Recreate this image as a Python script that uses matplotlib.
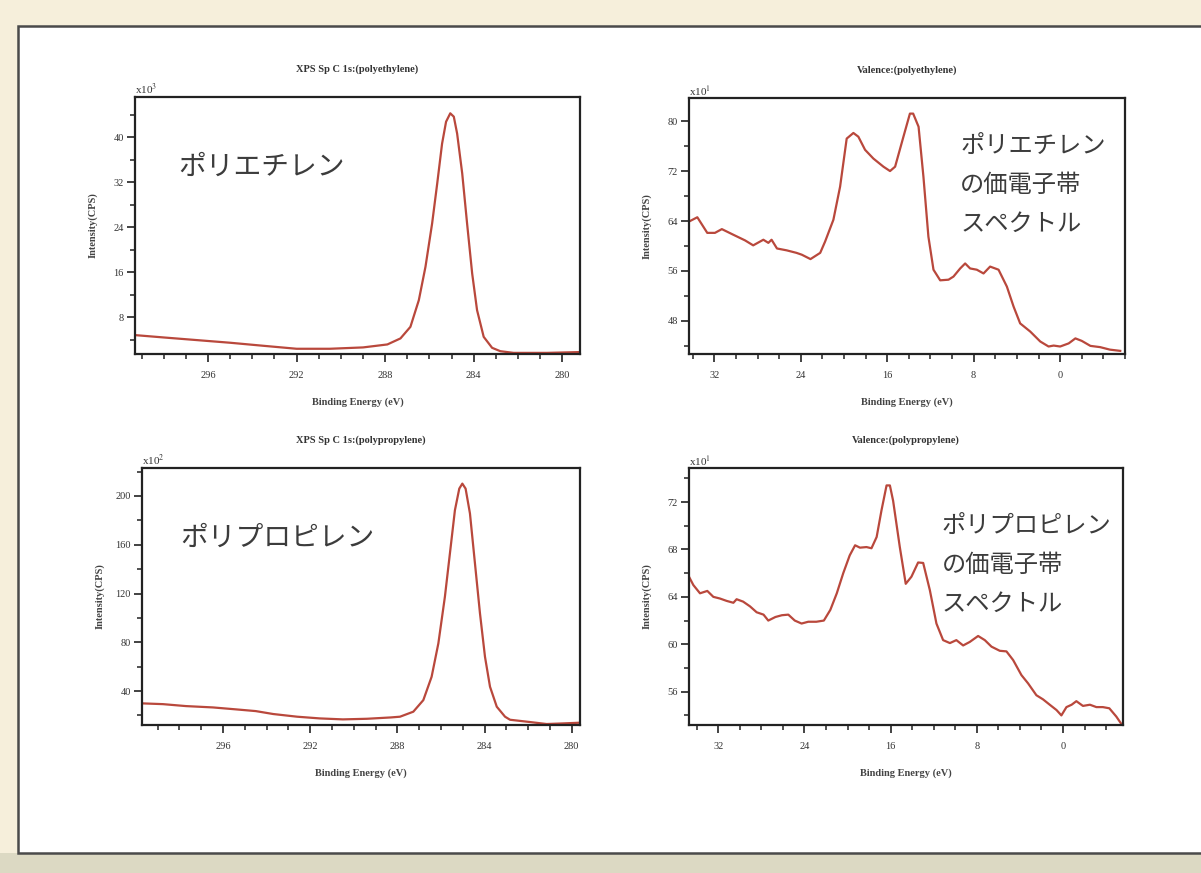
import numpy as np
import matplotlib
matplotlib.use("Agg")
import matplotlib.pyplot as plt
from matplotlib.patches import Rectangle
from matplotlib.ticker import MultipleLocator

plt.rcParams['font.family'] = ['Liberation Serif', 'DejaVu Serif']
plt.rcParams['mathtext.fontset'] = 'stix'

# --- data ---
# C 1s, polyethylene (x10^3 CPS)
pe_c1s_ev = [299.3, 298.0, 296.5, 295.0, 293.5, 292.0, 290.5, 289.0, 287.9, 287.31,
             286.86, 286.48, 286.18, 285.88, 285.65, 285.43, 285.25, 285.06, 284.9,
             284.75, 284.52, 284.3, 284.07, 283.85, 283.55, 283.17, 282.8, 282.2,
             280.7, 279.25]
pe_c1s_int = [4.86, 4.44, 3.97, 3.5, 2.96, 2.43, 2.43, 2.67, 3.2, 4.27,
              6.33, 11.07, 17.0, 24.7, 31.8, 38.9, 42.8, 44.3, 43.7,
              40.7, 33.6, 24.7, 15.8, 9.3, 4.55, 2.6, 2.0, 1.7,
              1.7, 1.84]

# C 1s, polypropylene (x10^2 CPS)
pp_c1s_ev = [299.67, 298.76, 297.7, 296.46, 295.4, 294.5, 293.7, 292.6, 291.56, 290.5,
             289.4, 288.3, 287.88, 287.27, 286.81, 286.43, 286.12, 285.82, 285.59,
             285.36, 285.16, 285.02, 284.87, 284.67, 284.44, 284.21, 283.98, 283.75,
             283.44, 283.06, 282.83, 281.9, 281.15, 280.4, 279.6]
pp_c1s_int = [29.9, 29.3, 27.7, 26.6, 25.0, 23.6, 21.2, 19.0, 17.6, 16.8,
              17.3, 18.4, 19.0, 23.1, 32.6, 51.7, 79.1, 117.3, 152.8,
              188.3, 206.0, 210.1, 206.0, 185.6, 144.6, 103.7, 68.1, 43.6,
              27.2, 19.0, 16.5, 14.6, 13.0, 13.5, 14.1]

# valence band, polyethylene (x10^1 CPS)
pe_val_ev = [34.35, 33.57, 32.65, 31.94, 31.3, 30.24, 29.16, 28.4, 27.46, 27.0,
             26.7, 26.2, 25.3, 24.4, 23.9, 23.1, 22.2, 21.75, 20.98, 20.36,
             19.75, 19.13, 18.67, 18.05, 17.28, 16.35, 15.74, 15.27, 14.5, 13.9,
             13.6, 13.1, 12.65, 12.19, 11.72, 11.1, 10.33, 9.87, 9.25, 8.79,
             8.33, 7.71, 7.09, 6.48, 5.7, 4.93, 4.31, 3.7, 2.77, 1.84,
             1.07, 0.6, 0.0, -0.79, -1.41, -2.0, -2.8, -3.7, -4.6, -5.56]
pe_val_int = [63.9, 64.6, 62.1, 62.1, 62.7, 61.8, 60.9, 60.1, 61.0, 60.5,
              61.0, 59.6, 59.3, 58.9, 58.6, 57.9, 58.9, 60.7, 64.2, 69.5,
              77.2, 78.1, 77.5, 75.4, 74.0, 72.7, 72.0, 72.7, 77.5, 81.2,
              81.2, 79.1, 71.1, 61.5, 56.2, 54.5, 54.6, 55.1, 56.4, 57.2,
              56.4, 56.2, 55.6, 56.7, 56.2, 53.5, 50.3, 47.6, 46.3, 44.7,
              43.9, 44.05, 43.9, 44.4, 45.2, 44.8, 44.0, 43.8, 43.4, 43.2]

# valence band, polypropylene (x10^1 CPS)
pp_val_ev = [34.72, 34.32, 33.7, 33.02, 32.46, 31.85, 31.23, 30.6, 30.3, 29.7,
             29.06, 28.44, 27.8, 27.36, 26.7, 26.1, 25.5, 24.9, 24.27, 23.65,
             22.9, 22.2, 21.6, 21.0, 20.4, 19.8, 19.3, 18.85, 18.24, 17.78,
             17.3, 16.85, 16.38, 16.07, 15.77, 15.15, 14.6, 14.07, 13.45, 12.98,
             12.36, 11.75, 11.13, 10.5, 9.9, 9.27, 8.65, 7.88, 7.26, 6.64,
             5.87, 5.25, 4.63, 3.86, 3.24, 2.47, 1.85, 1.23, 0.6, 0.15,
             -0.32, -0.8, -1.24, -1.85, -2.5, -3.1, -3.7, -4.3, -4.95, -5.4]
pp_val_int = [65.7, 65.0, 64.3, 64.5, 64.0, 63.86, 63.66, 63.5, 63.8, 63.6,
              63.2, 62.7, 62.5, 62.0, 62.3, 62.45, 62.5, 62.0, 61.75, 61.9,
              61.9, 62.0, 62.9, 64.3, 66.0, 67.5, 68.35, 68.15, 68.2, 68.1,
              69.05, 71.3, 73.4, 73.4, 72.1, 68.2, 65.1, 65.7, 66.9, 66.86,
              64.56, 61.75, 60.35, 60.1, 60.35, 59.9, 60.2, 60.7, 60.35, 59.8,
              59.45, 59.4, 58.67, 57.4, 56.7, 55.7, 55.35, 54.9, 54.45, 54.0,
              54.7, 54.9, 55.2, 54.8, 54.9, 54.7, 54.7, 54.6, 53.9, 53.3]

titles = ["XPS Sp C 1s:(polyethylene)", "Valence:(polyethylene)",
          "XPS Sp C 1s:(polypropylene)", "Valence:(polypropylene)"]
exps = ["3", "1", "2", "1"]
jp_labels = ["ポリエチレン", "ポリエチレン\nの価電子帯\nスペクトル",
             "ポリプロピレン", "ポリプロピレン\nの価電子帯\nスペクトル"]

W, H = 1201, 873
fig = plt.figure(figsize=(W / 100, H / 100), dpi=100)
fig.patch.set_facecolor('#f6efdb')

# page panel
fig.patches.append(Rectangle((0, 0), 1, (H - 853) / H, transform=fig.transFigure,
                             facecolor='#dcd9c3', edgecolor='none', zorder=-3))
fig.patches.append(Rectangle((18 / W, (H - 853) / H), 1.0, (853 - 26) / H,
                             transform=fig.transFigure, facecolor='white',
                             edgecolor='#4a4a4a', lw=1.8, zorder=-2))

def px_axes(x0, y0, x1, y1):
    return fig.add_axes([x0 / W, 1 - y1 / H, (x1 - x0) / W, (y1 - y0) / H])

axes = [px_axes(135, 97, 580, 354), px_axes(689, 98, 1125, 354),
        px_axes(142, 468, 580, 725), px_axes(689, 468, 1123, 725)]

series = [(pe_c1s_ev, pe_c1s_int), (pe_val_ev, pe_val_int),
          (pp_c1s_ev, pp_c1s_int), (pp_val_ev, pp_val_int)]
xlims = [(299.3, 279.2), (34.34, -6.0), (299.72, 279.62), (34.72, -5.57)]
ylims = [(1.5, 47.2), (42.7, 83.7), (12.2, 222.9), (53.19, 74.87)]
xmaj = [4, 8, 4, 8]
xmin = [1, 2, 1, 2]
ymaj = [8, 8, 40, 4]
ymin = [4, 4, 20, 2]

jp_pos = [(0.097, 0.73, 'center', 20), (0.622, 0.862, 'top', 17.5),
          (0.087, 0.73, 'center', 20), (0.583, 0.825, 'top', 17.5)]

for i, ax in enumerate(axes):
    x, y = series[i]
    ax.plot(x, y, color='#b9483c', lw=1.6)
    ax.set_xlim(*xlims[i])
    ax.set_ylim(*ylims[i])
    ax.xaxis.set_major_locator(MultipleLocator(xmaj[i]))
    ax.xaxis.set_minor_locator(MultipleLocator(xmin[i]))
    ax.yaxis.set_major_locator(MultipleLocator(ymaj[i]))
    ax.yaxis.set_minor_locator(MultipleLocator(ymin[i]))
    ax.tick_params(which='major', direction='out', length=6, width=1.2,
                   labelsize=7.5, color='#222', labelcolor='#333', pad=2)
    ax.tick_params(which='minor', direction='out', length=3.5, width=1.1, color='#222')
    ax.tick_params(axis='x', pad=6)
    for s in ax.spines.values():
        s.set_linewidth(1.6)
        s.set_color('#222')
    ax.set_title(titles[i], fontsize=7.5, fontweight='bold', color='#333', pad=18)
    ax.set_xlabel("Binding Energy (eV)", fontsize=7.5, fontweight='bold', color='#444')
    ax.xaxis.set_label_coords(0.5, -0.17)
    ax.set_ylabel("Intensity(CPS)", fontsize=7.5, fontweight='bold', color='#444')
    ax.yaxis.set_label_coords(-0.085, 0.5)
    ax.text(0.0, 1.0, r'x10$^{%s}$' % exps[i], transform=ax.transAxes,
            fontsize=8, color='#333', ha='left', va='bottom')
    tx, ty, va, fs = jp_pos[i]
    ax.text(tx, ty, jp_labels[i], transform=ax.transAxes, ha='left', va=va,
            fontsize=fs, color='#3c3c3c', linespacing=1.65,
            family=['Noto Sans CJK JP', 'DejaVu Sans'])

fig.savefig("out.png", dpi=100, facecolor=fig.get_facecolor())
